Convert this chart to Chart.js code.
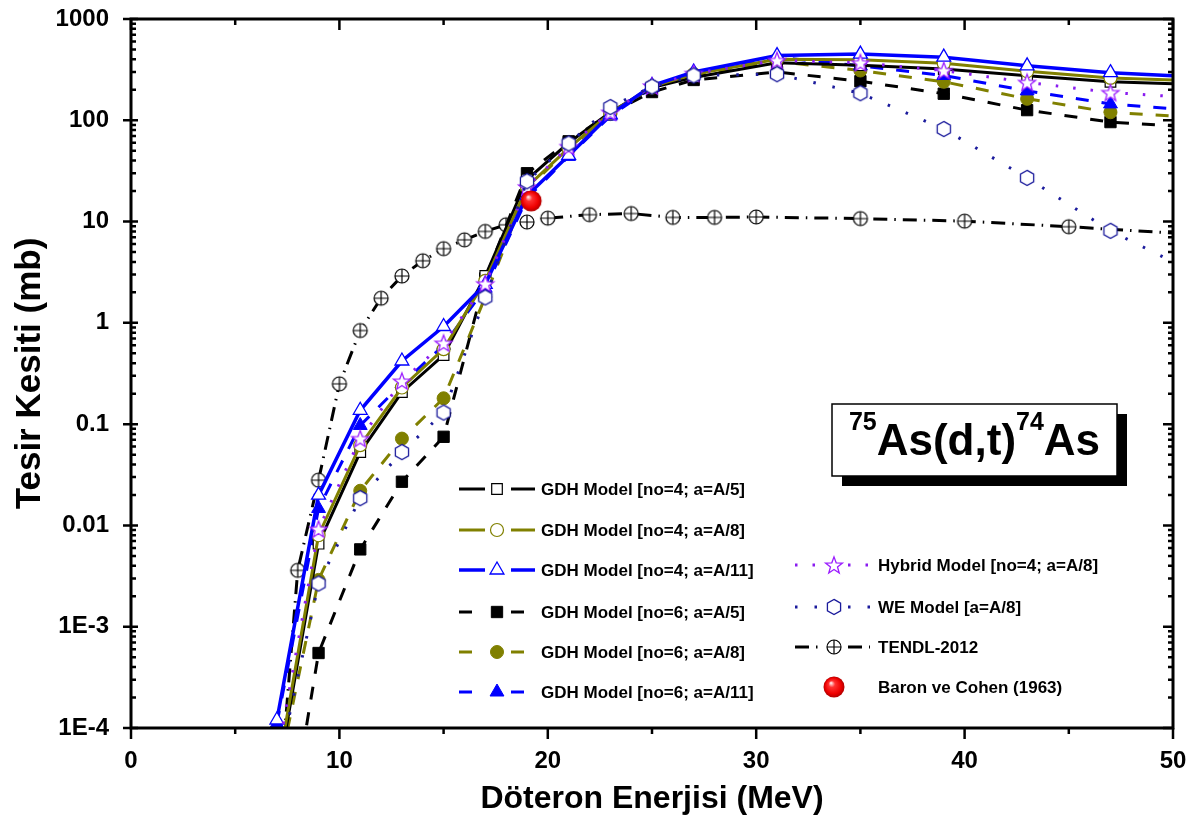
<!DOCTYPE html>
<html>
<head>
<meta charset="utf-8">
<script src="https://cdn.jsdelivr.net/npm/chart.js@4.4.1/dist/chart.umd.min.js"></script>
<style>
  html, body { margin: 0; padding: 0; background: #fff; }
  #wrap { width: 1190px; height: 818px; }
</style>
</head>
<body>
<div id="wrap"><canvas id="c" width="1190" height="818"></canvas></div>
<script>
// Deuteron energies (MeV) at which the model cross sections are given
const energies = [7, 9, 11, 13, 15, 17, 19, 21, 23, 25, 27, 31, 35, 39, 43, 47, 50];

// 75As(d,t)74As cross sections (mb)
const gdh4A5   = [3e-5, 0.0066, 0.053, 0.207, 0.48, 2.9, 26, 60, 120, 210, 265, 370, 350, 320, 275, 240, 230];
const gdh4A8   = [3.5e-5, 0.008, 0.062, 0.23, 0.55, 2.6, 22, 53, 118, 215, 285, 400, 395, 365, 305, 262, 250];
const gdh4A11  = [1.2e-4, 0.0199, 0.137, 0.42, 0.92, 2.4, 18, 45, 114, 220, 300, 435, 450, 420, 345, 295, 275];
const gdh6A5   = [1.8e-6, 5.5e-4, 0.0058, 0.027, 0.075, 2.75, 30, 62, 118, 190, 250, 300, 243, 183, 126, 96, 88];
const gdh6A8   = [3e-5, 0.0029, 0.022, 0.072, 0.18, 1.8, 21, 52, 115, 210, 280, 380, 310, 240, 163, 120, 110];
const gdh6A11  = [1.1e-4, 0.0147, 0.097, 0.25, 0.6, 2.2, 17, 44, 110, 210, 290, 420, 345, 277, 195, 145, 130];
const hybridA8 = [5e-5, 0.0092, 0.072, 0.266, 0.63, 2.43, 22, 55, 120, 218, 290, 390, 370, 310, 237, 188, 172];
const weA8     = [3.7e-5, 0.00267, 0.0186, 0.053, 0.13, 1.78, 25, 59, 135, 215, 277, 285, 185, 82, 27, 8.1, 4.0];

// TENDL-2012 evaluated data
const tendlEnergies = [7, 8, 9, 10, 11, 12, 13, 14, 15, 16, 17, 18, 19, 20, 22, 24, 26, 28, 30, 35, 40, 45, 50];
const tendl2012     = [1e-5, 0.0036, 0.028, 0.25, 0.84, 1.75, 2.9, 4.1, 5.4, 6.6, 8.0, 9.3, 9.9, 10.8, 11.7, 12, 11, 11, 11.1, 10.7, 10.1, 8.9, 7.7];

// Experimental point
const baronEnergy = [19.2];
const baronCohen1963 = [16];

// Axis ticks
const xTickValues = [0, 5, 10, 15, 20, 25, 30, 35, 40, 45, 50];
const yTickValues = [1e-4, 1e-3, 0.01, 0.1, 1, 10, 100, 1000];
const yTickLabels = ['1E-4', '1E-3', '0.01', '0.1', '1', '10', '100', '1000'];

const FONT = '"Liberation Sans", Arial, Helvetica, sans-serif';

function pairs(xs, ys) { return xs.map((x, i) => ({ x: x, y: ys[i] })); }
// marker hidden at the right edge, where the curves run out of the frame
function endless(r) { return ctx => (ctx.raw && ctx.raw.x >= 50 ? 0 : r); }

function makeMarker(size, draw) {
  const c = document.createElement('canvas');
  c.width = size; c.height = size;
  draw(c.getContext('2d'), size / 2);
  return c;
}
const starMark = makeMarker(22, (g, c) => {
  g.beginPath();
  for (let i = 0; i < 10; i++) {
    const r = i % 2 ? 3.7 : 8.9;
    const a = -Math.PI / 2 + i * Math.PI / 5;
    g.lineTo(c + r * Math.cos(a), c + 0.8 + r * Math.sin(a));
  }
  g.closePath();
  g.fillStyle = '#fff'; g.fill();
  g.strokeStyle = '#9b1cff'; g.lineWidth = 1.3; g.stroke();
});
const hexMark = makeMarker(20, (g, c) => {
  g.beginPath();
  for (let i = 0; i < 6; i++) {
    const a = -Math.PI / 2 + i * Math.PI / 3;
    g.lineTo(c + 7.6 * Math.cos(a), c + 7.6 * Math.sin(a));
  }
  g.closePath();
  g.fillStyle = '#fff'; g.fill();
  g.strokeStyle = '#1b1b9c'; g.lineWidth = 1.3; g.stroke();
});
const oplusMark = makeMarker(20, (g, c) => {
  g.beginPath(); g.arc(c, c, 7, 0, Math.PI * 2);
  g.fillStyle = '#fff'; g.fill();
  g.strokeStyle = '#000'; g.lineWidth = 1.2; g.stroke();
  g.beginPath();
  g.moveTo(c - 7, c); g.lineTo(c + 7, c);
  g.moveTo(c, c - 7); g.lineTo(c, c + 7);
  g.stroke();
});
const ballMark = makeMarker(24, (g, c) => {
  const grad = g.createRadialGradient(c - 3, c - 4, 0.5, c, c, 10.5);
  grad.addColorStop(0, '#ffe0e0');
  grad.addColorStop(0.28, '#ff3030');
  grad.addColorStop(0.75, '#ee0000');
  grad.addColorStop(1, '#b00000');
  g.beginPath(); g.arc(c, c, 10.5, 0, Math.PI * 2);
  g.fillStyle = grad; g.fill();
});

const OLIVE = '#808000', BLUE = '#0000ff', VIOLET = '#8a1cf0', NAVY = '#1b1b9c';
const DASH = [13, 13];

const datasets = [
  { label: 'GDH Model [no=4; a=A/5]', data: pairs(energies, gdh4A5), borderColor: '#000', borderWidth: 3,
    pointStyle: 'rect', legendRadius: 7.5, pointRadius: endless(7.5), pointBackgroundColor: '#fff', pointBorderColor: '#000', pointBorderWidth: 1.2, order: 5 },
  { label: 'GDH Model [no=4; a=A/8]', data: pairs(energies, gdh4A8), borderColor: OLIVE, borderWidth: 3,
    pointStyle: 'circle', legendRadius: 6.5, pointRadius: endless(6.5), pointBackgroundColor: '#fff', pointBorderColor: OLIVE, pointBorderWidth: 1.2, order: 4 },
  { label: 'GDH Model [no=4; a=A/11]', data: pairs(energies, gdh4A11), borderColor: BLUE, borderWidth: 3.5,
    pointStyle: 'triangle', legendRadius: 8, pointRadius: endless(8), pointBackgroundColor: '#fff', pointBorderColor: BLUE, pointBorderWidth: 1.3, order: 3 },
  { label: 'GDH Model [no=6; a=A/5]', data: pairs(energies, gdh6A5), borderColor: '#000', borderWidth: 3, borderDash: DASH,
    pointStyle: 'rect', legendRadius: 8, pointRadius: endless(8), pointBackgroundColor: '#000', pointBorderColor: '#000', pointBorderWidth: 1, order: 8 },
  { label: 'GDH Model [no=6; a=A/8]', data: pairs(energies, gdh6A8), borderColor: OLIVE, borderWidth: 3, borderDash: DASH,
    pointStyle: 'circle', legendRadius: 6.5, pointRadius: endless(6.5), pointBackgroundColor: OLIVE, pointBorderColor: OLIVE, pointBorderWidth: 1, order: 7 },
  { label: 'GDH Model [no=6; a=A/11]', data: pairs(energies, gdh6A11), borderColor: BLUE, borderWidth: 3, borderDash: DASH,
    pointStyle: 'triangle', legendRadius: 8, pointRadius: endless(8), pointBackgroundColor: BLUE, pointBorderColor: BLUE, pointBorderWidth: 1, order: 6 },
  { label: 'Hybrid Model [no=4; a=A/8]', data: pairs(energies, hybridA8), borderColor: VIOLET, borderWidth: 3, borderDash: [2.5, 15],
    pointStyle: starMark, legendRadius: 8, pointRadius: endless(8), order: 2 },
  { label: 'WE Model [a=A/8]', data: pairs(energies, weA8), borderColor: NAVY, borderWidth: 3, borderDash: [2.5, 17],
    pointStyle: hexMark, legendRadius: 8, pointRadius: endless(8), order: 1 },
  { label: 'TENDL-2012', data: pairs(tendlEnergies, tendl2012), borderColor: '#000', borderWidth: 3, borderDash: [14, 7, 1.5, 7],
    pointStyle: oplusMark, legendRadius: 8, pointRadius: endless(8), order: 9 },
  { label: 'Baron ve Cohen (1963)', data: pairs(baronEnergy, baronCohen1963), showLine: false, borderColor: '#e00000',
    pointStyle: ballMark, legendRadius: 11, pointRadius: 11, order: 0 }
];

// Frame with inward/outward tick marks on all four sides
const framePlugin = {
  id: 'frame',
  afterDatasetsDraw(chart) {
    const { ctx, chartArea: a, scales } = chart;
    const xs = scales.x, ys = scales.y;
    ctx.save();
    ctx.strokeStyle = '#000';
    ctx.lineWidth = 3;
    ctx.strokeRect(a.left, a.top, a.right - a.left, a.bottom - a.top);
    ctx.lineWidth = 2.5;
    ctx.beginPath();
    xTickValues.forEach(v => {
      const px = xs.getPixelForValue(v);
      const major = v % 10 === 0;
      ctx.moveTo(px, a.bottom); ctx.lineTo(px, a.bottom + (major ? 11 : 6));
      ctx.moveTo(px, a.top); ctx.lineTo(px, a.top + (major ? 11 : 6));
    });
    for (let k = -4; k <= 3; k++) {
      for (let m = 1; m <= 9; m++) {
        const v = m * Math.pow(10, k);
        if (v > 1000 * 1.0001) break;
        const py = ys.getPixelForValue(v);
        if (m === 1) {
          ctx.moveTo(a.left - 8, py); ctx.lineTo(a.left + 7, py);
          ctx.moveTo(a.right, py); ctx.lineTo(a.right - 10, py);
        } else {
          ctx.moveTo(a.left, py); ctx.lineTo(a.left + 5, py);
          ctx.moveTo(a.right, py); ctx.lineTo(a.right - 5, py);
        }
      }
    }
    ctx.stroke();
    ctx.restore();
  }
};

// Two-column key drawn from the datasets' own styles
const keyPlugin = {
  id: 'key',
  afterDraw(chart) {
    const { ctx } = chart;
    const cols = [
      { ids: [0, 1, 2, 3, 4, 5], rows: [489, 530, 570, 612, 652, 692], x0: 459, mark: 497, x1: 535, text: 541 },
      { ids: [6, 7, 8, 9], rows: [565, 607, 647, 687], x0: 795, mark: 834, x1: 870, text: 878 }
    ];
    ctx.save();
    cols.forEach(col => {
      col.ids.forEach((id, j) => {
        const ds = chart.data.datasets[id];
        const y = col.rows[j];
        if (ds.showLine !== false) {
          ctx.save();
          ctx.strokeStyle = ds.borderColor;
          ctx.lineWidth = ds.borderWidth;
          ctx.setLineDash(ds.borderDash || []);
          ctx.beginPath();
          ctx.moveTo(col.x0, y); ctx.lineTo(col.mark - 12, y);
          ctx.stroke();
          ctx.beginPath();
          ctx.moveTo(col.mark + 14, y); ctx.lineTo(col.x1, y);
          ctx.stroke();
          ctx.restore();
        }
        ctx.save();
        ctx.fillStyle = ds.pointBackgroundColor || '#fff';
        ctx.strokeStyle = ds.pointBorderColor || '#000';
        ctx.lineWidth = ds.pointBorderWidth || 1;
        Chart.helpers.drawPoint(ctx, { pointStyle: ds.pointStyle, radius: ds.legendRadius, rotation: 0, borderWidth: ds.pointBorderWidth || 1 }, col.mark, y);
        ctx.restore();
        ctx.fillStyle = '#000';
        ctx.font = 'bold 17px ' + FONT;
        ctx.textBaseline = 'middle';
        ctx.textAlign = 'left';
        ctx.fillText(ds.label, col.text, y + 1);
      });
    });
    ctx.restore();
  }
};

// Reaction label in a shadowed box
const reactionPlugin = {
  id: 'reaction',
  afterDraw(chart) {
    const { ctx } = chart;
    const L = 832, T = 404, R = 1117, B = 476;
    ctx.save();
    ctx.fillStyle = '#000';
    ctx.fillRect(L + 10, T + 10, R - L, B - T);
    ctx.fillStyle = '#fff';
    ctx.fillRect(L, T, R - L, B - T);
    ctx.strokeStyle = '#000';
    ctx.lineWidth = 1.5;
    ctx.strokeRect(L, T, R - L, B - T);
    const parts = [
      { t: '75', sup: true }, { t: 'As(d,t)', sup: false },
      { t: '74', sup: true }, { t: 'As', sup: false }
    ];
    const big = 'bold 44px ' + FONT, small = 'bold 25px ' + FONT;
    let w = 0;
    parts.forEach(p => { ctx.font = p.sup ? small : big; p.w = ctx.measureText(p.t).width; w += p.w; });
    let x = (L + R) / 2 - w / 2;
    ctx.fillStyle = '#000';
    ctx.textBaseline = 'alphabetic';
    ctx.textAlign = 'left';
    parts.forEach(p => {
      ctx.font = p.sup ? small : big;
      ctx.fillText(p.t, x, p.sup ? 430 : 455);
      x += p.w;
    });
    ctx.restore();
  }
};

new Chart(document.getElementById('c'), {
  type: 'line',
  data: { datasets: datasets.map(d => Object.assign({ fill: false, tension: 0, pointHoverRadius: 0 }, d)) },
  options: {
    responsive: false,
    animation: false,
    devicePixelRatio: 1,
    layout: { padding: { top: 19, right: 17, left: 0, bottom: 0 } },
    plugins: { legend: { display: false }, tooltip: { enabled: false } },
    events: [],
    scales: {
      x: {
        type: 'linear', min: 0, max: 50,
        afterFit: s => { s.height = 90; s.paddingLeft = 0; s.paddingRight = 0; },
        afterBuildTicks: s => { s.ticks = xTickValues.map(v => ({ value: v })); },
        grid: { display: false, drawTicks: false },
        border: { display: false },
        ticks: {
          padding: 19, color: '#000', maxRotation: 0, autoSkip: false,
          font: { family: FONT, size: 24, weight: 'bold' },
          callback: v => (v % 10 === 0 ? String(v) : '')
        },
        title: {
          display: true, text: 'Döteron Enerjisi (MeV)', color: '#000',
          font: { family: FONT, size: 32, weight: 'bold' }, padding: { top: 0, bottom: 0 }
        }
      },
      y: {
        type: 'logarithmic', min: 1e-4, max: 1000,
        afterFit: s => { s.width = 131; s.paddingTop = 0; s.paddingBottom = 0; },
        afterBuildTicks: s => { s.ticks = yTickValues.map(v => ({ value: v })); },
        grid: { display: false, drawTicks: false },
        border: { display: false },
        ticks: {
          padding: 22, color: '#000', autoSkip: false,
          font: { family: FONT, size: 24, weight: 'bold' },
          callback: v => {
            const i = yTickValues.findIndex(t => Math.abs(Math.log10(t) - Math.log10(v)) < 1e-6);
            return i >= 0 ? yTickLabels[i] : '';
          }
        },
        title: {
          display: true, text: 'Tesir Kesiti (mb)', color: '#000',
          font: { family: FONT, size: 35, weight: 'bold' }, padding: { top: 9, bottom: 0 }
        }
      }
    }
  },
  plugins: [framePlugin, keyPlugin, reactionPlugin]
});
</script>
</body>
</html>
